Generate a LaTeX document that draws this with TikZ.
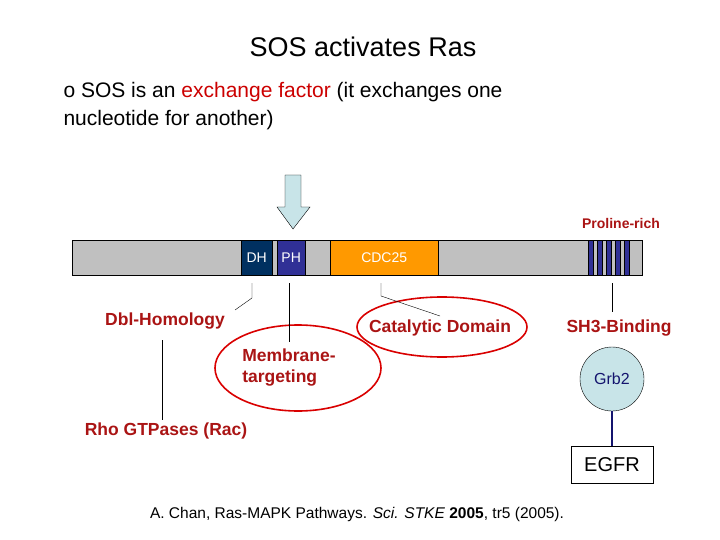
\documentclass[tikz,border=0pt]{standalone}
\usepackage{fontspec}
\setmainfont{Liberation Sans}
\usetikzlibrary{shapes.geometric}
\definecolor{lbl}{RGB}{170,20,20}
\definecolor{barg}{RGB}{192,192,192}
\definecolor{dhblue}{RGB}{0,48,96}
\definecolor{phblue}{RGB}{48,48,150}
\definecolor{cdc}{RGB}{255,153,0}
\definecolor{ice}{RGB}{200,228,232}
\definecolor{navy}{RGB}{20,20,110}
\begin{document}
\begin{tikzpicture}[x=1pt,y=-1pt]
  \tikzset{dombox/.style={draw,rectangle,anchor=north west,inner sep=0pt},
           lbltext/.style={text=lbl,font=\bfseries\fontsize{17.5}{21}\selectfont},
           ring/.style={draw=red!85!black,line width=1.6pt,ellipse}}
  \useasboundingbox (0,0) rectangle (720,540);

  \node[font=\fontsize{27}{32}\selectfont] (title) at (363,47) {SOS activates Ras};
  \node[anchor=west,align=left,font=\fontsize{21}{28}\selectfont] (text) at (60,106)
    {o SOS is an \textcolor{red!80!black}{exchange factor} (it exchanges one\\nucleotide for another)};

  % protein bar
  \node[dombox,fill=barg,minimum width=570,minimum height=35] (bar) at (72,240) {};
  \node[dombox,fill=dhblue,minimum width=31,minimum height=35,text=white,font=\fontsize{14}{16}\selectfont] (dh) at (241,240) {DH};
  \node[dombox,fill=phblue,minimum width=28,minimum height=35,text=white,font=\fontsize{14}{16}\selectfont] (ph) at (277,240) {PH};
  \node[dombox,fill=cdc,minimum width=108,minimum height=35,text=white,font=\fontsize{14}{16}\selectfont] (cdc) at (330,240) {CDC25};
  \foreach \x in {588,597,606,615,624}
    \node[dombox,fill=phblue,minimum width=5,minimum height=35] at (\x,240) {};
  \node[text=lbl,font=\bfseries\fontsize{14}{16}\selectfont] (pro) at (621,223) {Proline-rich};

  \filldraw[fill=ice] (285,175) -- (301,175) -- (301,207) -- (310,207) -- (293,229)
    -- (277,207) -- (285,207) -- cycle;

  % labels
  \node[lbltext] (dbl) at (165,321) {Dbl-Homology};
  \node[lbltext] (cat) at (440,328) {Catalytic Domain};
  \node[lbltext] (sh3) at (619,328) {SH3-Binding};
  \node[lbltext,align=left] (mem) at (289,368) {Membrane-\\targeting};
  \node[lbltext] (rho) at (166,431) {Rho GTPases (Rac)};
  \node[ring,minimum width=170,minimum height=60] (catring) at (442,327) {};
  \node[ring,minimum width=166,minimum height=86] (memring) at (298,368) {};

  \node[circle,draw,fill=ice,minimum size=64,text=navy,font=\fontsize{16}{18}\selectfont] (grb) at (612,379) {Grb2};
  \node[draw,minimum width=82,minimum height=37,font=\fontsize{20}{24}\selectfont] (egfr) at (612,465) {EGFR};
  \node[font=\fontsize{15.5}{18}\selectfont] (ref) at (357,514) {A. Chan, Ras-MAPK Pathways. \textit{Sci. STKE} \textbf{2005}, tr5 (2005).};

  % connectors
  \draw (252,283) -- (252,298) -- (235,310);
  \draw (289,283) -- (289,342);
  \draw (381,283) -- (381,296) -- (440,316);
  \draw (612,283) -- (612,312);
  \draw (162,340) -- (162,420);
  \draw[navy,line width=2pt] (grb.south) -- (egfr.north);
\end{tikzpicture}
\end{document}
